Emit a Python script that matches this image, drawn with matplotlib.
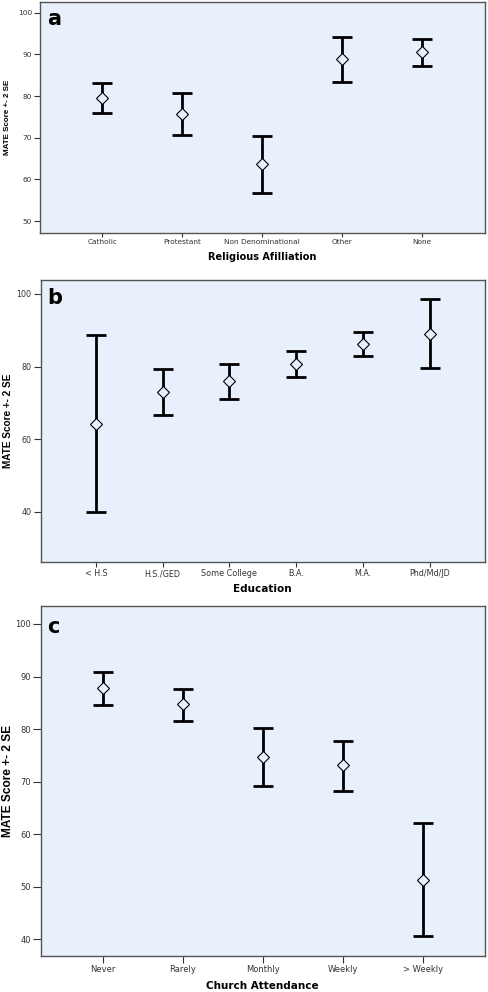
import matplotlib
matplotlib.use("Agg")
import matplotlib.pyplot as plt

# Panel a
rel_cats = ["Catholic", "Protestant", "Non Denominational", "Other", "None"]
rel_mean = [79.6, 75.6, 63.6, 88.9, 90.6]
rel_low = [75.9, 70.6, 56.8, 83.5, 87.3]
rel_high = [83.2, 80.7, 70.4, 94.2, 93.8]

# Panel b
edu_cats = ["< H.S", "H.S./GED", "Some College", "B.A.", "M.A.", "Phd/Md/JD"]
edu_mean = [64.1, 73.0, 75.9, 80.8, 86.1, 89.0]
edu_low = [39.9, 66.6, 71.2, 77.1, 82.8, 79.7]
edu_high = [88.8, 79.4, 80.6, 84.3, 89.4, 98.6]

# Panel c
att_cats = ["Never", "Rarely", "Monthly", "Weekly", "> Weekly"]
att_mean = [87.8, 84.7, 74.7, 73.1, 51.4]
att_low = [84.6, 81.6, 69.2, 68.3, 40.6]
att_high = [90.9, 87.7, 80.3, 77.8, 62.2]

BG = "#E8F0FB"
YLAB_FONT = ["Liberation Sans", "DejaVu Sans"]

fig = plt.figure(figsize=(4.88, 9.92), dpi=100)

panels = [
    dict(rect=[0.082, 0.765, 0.912, 0.233], cats=rel_cats, mean=rel_mean, low=rel_low, high=rel_high,
         ylim=(47.1, 102.6), yticks=[50, 60, 70, 80, 90, 100], xlim=(-0.78, 4.79),
         xlabel="Religious Afilliation", letter="a", tfs=5.3, yfs=5.8, xfs=7, xlp=4.5,
         xtl=3, ytl=4.3),
    dict(rect=[0.083, 0.433, 0.911, 0.285], cats=edu_cats, mean=edu_mean, low=edu_low, high=edu_high,
         ylim=(26.1, 103.9), yticks=[40, 60, 80, 100], xlim=(-0.83, 5.83),
         xlabel="Education", letter="b", tfs=5.8, yfs=7.2, xfs=7.5, xlp=4,
         xtl=3.5, ytl=5),
    dict(rect=[0.083, 0.036, 0.911, 0.353], cats=att_cats, mean=att_mean, low=att_low, high=att_high,
         ylim=(36.8, 103.4), yticks=[40, 50, 60, 70, 80, 90, 100], xlim=(-0.78, 4.78),
         xlabel="Church Attendance", letter="c", tfs=6, yfs=8.6, xfs=7.5, xlp=5,
         xtl=5, ytl=5.5),
]

for p in panels:
    ax = fig.add_axes(p["rect"])
    ax.set_facecolor(BG)
    x = list(range(len(p["cats"])))
    m = p["mean"]
    lo = [mi - li for mi, li in zip(m, p["low"])]
    hi = [hi_ - mi for mi, hi_ in zip(m, p["high"])]
    ax.errorbar(x, m, yerr=[lo, hi], fmt="none", ecolor="black", elinewidth=2,
                capsize=7.2, capthick=2, zorder=2)
    ax.plot(x, m, linestyle="none", marker="D", markersize=6.5, markerfacecolor=BG,
            markeredgecolor="black", markeredgewidth=0.8, zorder=3)
    ax.set_xlim(*p["xlim"])
    ax.set_ylim(*p["ylim"])
    ax.set_xticks(x)
    ax.set_xticklabels(p["cats"], fontsize=p["tfs"])
    ax.set_yticks(p["yticks"])
    ax.set_yticklabels([str(t) for t in p["yticks"]], fontsize=p["tfs"])
    ax.tick_params(axis="x", direction="out", length=p["xtl"], width=0.8,
                   colors="#333333", pad=1.5)
    ax.tick_params(axis="y", direction="out", length=p["ytl"], width=0.8,
                   colors="#333333", pad=1.5)
    for s in ax.spines.values():
        s.set_color("#555555")
        s.set_linewidth(1.0)
    ax.set_xlabel(p["xlabel"], fontsize=p["xfs"], fontweight="bold", labelpad=p["xlp"])
    ax.set_ylabel("MATE Score +- 2 SE", fontsize=p["yfs"], fontweight="bold", family=YLAB_FONT)
    ax.yaxis.label.set_va("center")
    ax.yaxis.set_label_coords(-0.074, 0.5)
    ax.text(0.015, 0.97, p["letter"], transform=ax.transAxes, fontsize=15,
            fontweight="bold", va="top", ha="left")

fig.savefig("out.png", dpi=100)
